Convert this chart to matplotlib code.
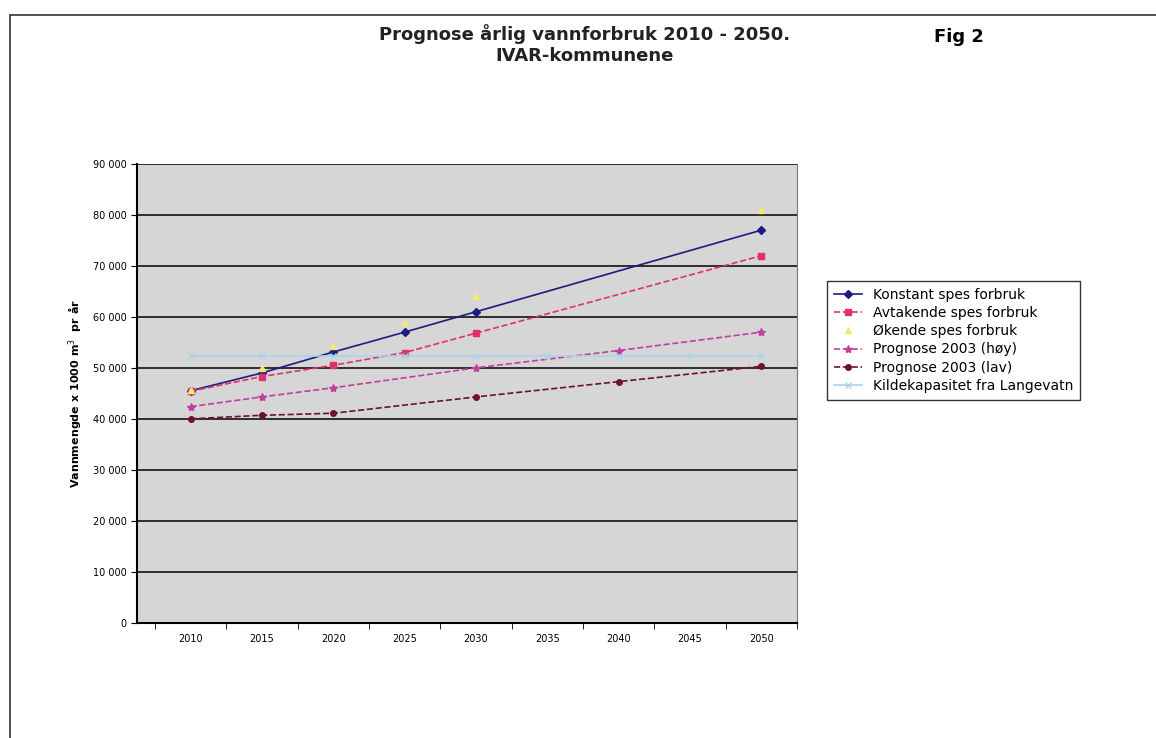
import matplotlib.pyplot as plt
from matplotlib.patches import Rectangle
from matplotlib.ticker import FuncFormatter, FixedLocator, NullFormatter
import numpy as np

# Categories and series values (1000 m3 per year), None = no data
YEARS = ["2010", "2015", "2020", "2025", "2030", "2035", "2040", "2045", "2050"]
KONSTANT = [45500, 49000, 53100, 57000, 61000, None, None, None, 77000]
AVTAKENDE = [45400, 48300, 50500, 53000, 56800, None, None, None, 72000]
OKENDE = [45600, 50000, 54300, 58700, 64000, None, None, None, 81000]
HOY = [42400, 44300, 46100, None, 50000, None, 53400, None, 57000]
LAV = [40000, 40700, 41100, None, 44300, None, 47300, None, 50300]
KILDE = [52300, 52300, 52300, 52300, 52300, 52300, 52300, 52300, 52300]

SERIES = [
    ("Konstant spes forbruk", KONSTANT, dict(color="#1c1c80", ls="-", marker="D", ms=4)),
    ("Avtakende spes forbruk", AVTAKENDE, dict(color="#e0306e", ls="--", marker="s", ms=5)),
    ("Økende spes forbruk", OKENDE, dict(color="#f2ea70", ls="none", marker="^", ms=5)),
    ("Prognose 2003 (høy)", HOY, dict(color="#c0409a", ls="--", marker="*", ms=6)),
    ("Prognose 2003 (lav)", LAV, dict(color="#6e1030", ls="--", marker="o", ms=4)),
    ("Kildekapasitet fra Langevatn", KILDE, dict(color="#a8d4ec", ls="-", marker="x", ms=5)),
]


def thousands(v, pos):
    return f"{int(v):,}".replace(",", " ")


def main():
    fig = plt.figure(figsize=(11.56, 7.38), dpi=100)
    fig.patch.set_facecolor("white")

    # page frame
    fig.add_artist(Rectangle((0.009, -0.01), 1.2, 0.99, transform=fig.transFigure,
                             fill=False, edgecolor="#333333", lw=1.2))

    ax = fig.add_axes([0.1185, 0.156, 0.571, 0.622])
    ax.set_facecolor("#d6d6d6")

    x = np.arange(len(YEARS))
    for name, vals, style in SERIES:
        v = np.array([np.nan if a is None else a for a in vals], dtype=float)
        ok = ~np.isnan(v)
        ax.plot(x[ok], v[ok], label=name, lw=1.2, mec=style["color"], **style)

    ax.set_ylim(0, 90000)
    ax.set_xlim(-0.75, 8.5)
    ax.yaxis.set_major_locator(FixedLocator(np.arange(0, 90001, 10000)))
    ax.yaxis.set_major_formatter(FuncFormatter(thousands))
    ax.grid(axis="y", color="black", lw=1.1)
    ax.set_axisbelow(True)

    ax.set_xticks(x)
    ax.set_xticklabels(YEARS)
    ax.set_xticks(np.arange(-0.5, 8.6, 1.0), minor=True)
    ax.xaxis.set_minor_formatter(NullFormatter())
    ax.tick_params(axis="x", which="major", length=0, labelsize=7, pad=8)
    ax.tick_params(axis="x", which="minor", length=4, direction="out")
    ax.tick_params(axis="y", labelsize=7, length=4)

    for s in ["left", "bottom"]:
        ax.spines[s].set_color("black")
        ax.spines[s].set_linewidth(1.5)
    ax.spines["top"].set_visible(False)
    ax.spines["right"].set_color("#777777")

    ax.set_ylabel("Vannmengde x 1000 m$^3$  pr år", fontsize=8, fontweight="bold", labelpad=6)

    fig.text(0.506, 0.94, "Prognose årlig vannforbruk 2010 - 2050.\nIVAR-kommunene",
             ha="center", va="center", fontsize=13, fontweight="bold",
             color="#222222", linespacing=1.25)
    fig.text(0.808, 0.95, "Fig 2", ha="left", va="center", fontsize=13, fontweight="bold")

    leg = ax.legend(loc="upper left", bbox_to_anchor=(1.035, 0.76), fontsize=10,
                    frameon=True, fancybox=False, edgecolor="black", handlelength=2.0,
                    labelspacing=0.3, borderpad=0.5)
    leg.get_frame().set_linewidth(1.0)

    fig.savefig("out.png", dpi=100)


if __name__ == "__main__":
    main()
